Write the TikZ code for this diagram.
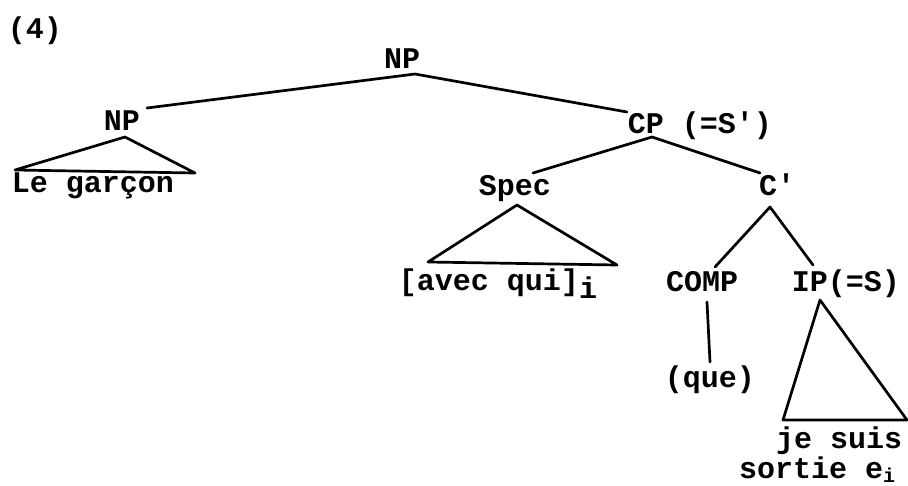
\documentclass[tikz,border=0pt]{standalone}
\usepackage{fontspec}
\newfontfamily\treefont{Liberation Mono}[BoldFont={Liberation Mono Bold}]
\begin{document}
\begin{tikzpicture}[x=1pt,y=-1pt,
  lbl/.style={inner sep=0pt,anchor=base,font=\treefont\fontsize{30}{32}\selectfont\bfseries},
  lblw/.style={lbl,anchor=base west},
  br/.style={line width=2.7pt,line cap=round,line join=round}]
\useasboundingbox (0,0) rectangle (908,485);
% labels
\node[lbl] (ex) at (35,38) {(4)};
\node[lbl] (np0) at (402,68) {NP};
\node[lbl] (np1) at (122,130) {NP};
\node[lbl] (le) at (93,192) {Le garçon};
\node[lbl] (cp) at (700,133) {CP (=S')};
\node[lbl] (spec) at (515,195) {Spec};
\node[lbl] (cbar) at (777,195) {C'};
\node[lbl] (avec) at (498,290) {[avec qui]\raisebox{-8pt}{i}};
\node[lbl] (comp) at (702,291) {COMP};
\node[lbl] (ip) at (846,291) {IP(=S)};
\node[lbl] (que) at (710,387) {(que)};
\node[lblw,align=left,font=\treefont\fontsize{30}{30}\selectfont\bfseries] (iptext) at (739,478)
  {\hspace*{37pt}je suis\\sortie e\raisebox{-4pt}{\fontsize{20}{22}\selectfont i}};
% branch points
\coordinate (np0b) at (415,74);
\coordinate (np1t) at (147,108);
\coordinate (cpt) at (627,112);
\coordinate (cpb) at (652,137);
\coordinate (spect) at (533,173);
\coordinate (cbart) at (760,173);
\coordinate (npa) at (125,137);
\coordinate (npl) at (15,170);
\coordinate (npr) at (195,173);
\coordinate (spa) at (517,205);
\coordinate (spl) at (428,262);
\coordinate (spr) at (617,265);
\coordinate (cba) at (770,207);
\coordinate (compt) at (715,267);
\coordinate (ipt) at (813,265);
\coordinate (compb) at (707,302);
\coordinate (queb) at (710,362);
\coordinate (ipa) at (820,300);
\coordinate (ipl) at (783,420);
\coordinate (ipr) at (907,420);
% branches
\draw[br] (np1t) -- (np0b) -- (cpt);
\draw[br] (spect) -- (cpb) -- (cbart);
\draw[br] (npl) -- (npa) -- (npr) -- cycle;
\draw[br] (spl) -- (spa) -- (spr) -- cycle;
\draw[br] (compt) -- (cba) -- (ipt);
\draw[br] (compb) -- (queb);
\draw[br] (ipl) -- (ipa) -- (ipr) -- cycle;
\end{tikzpicture}
\end{document}
